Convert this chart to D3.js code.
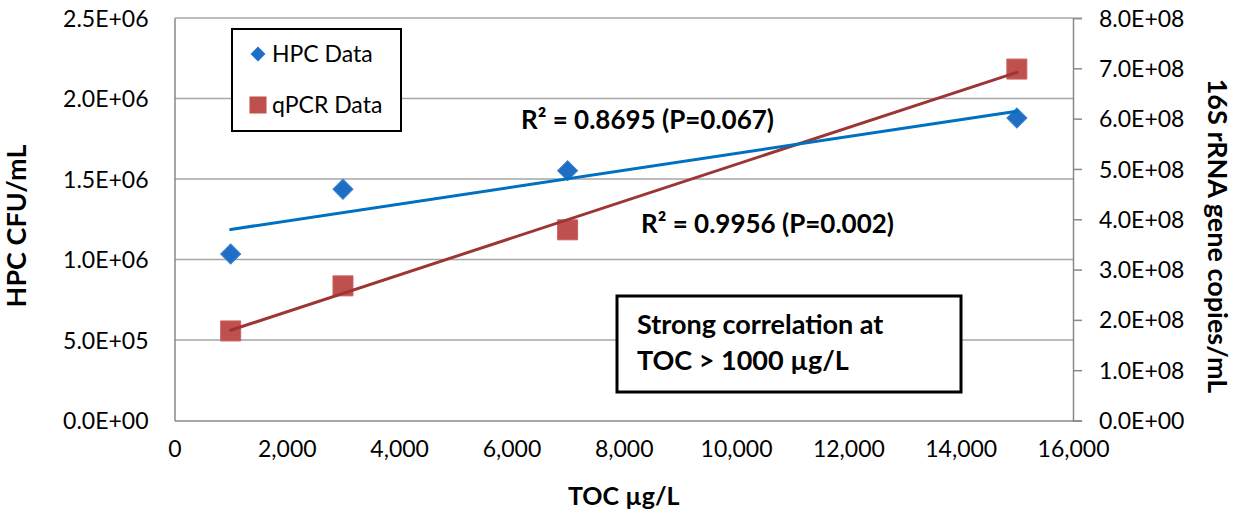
<!DOCTYPE html>
<html>
<head>
<meta charset="utf-8">
<script src="https://cdn.jsdelivr.net/npm/d3@7"></script>
<style>
  html, body { margin: 0; padding: 0; background: #fff; }
  svg { display: block; font-family: Lato, "Open Sans", sans-serif; }
</style>
</head>
<body>
<div id="chart"></div>
<script>
// data
const TOC = [1000, 3000, 7000, 15000];
const HPC = [1.034e6, 1.436e6, 1.552e6, 1.879e6];
const QPCR = [1.78e8, 2.676e8, 3.79e8, 6.985e8];

const X_TICKS = d3.range(0, 16001, 2000);
const YL_TICKS = d3.range(0, 2.5e6 + 1, 5e5);
const YR_TICKS = d3.range(0, 8e8 + 1, 1e8);

const HPC_LABEL = "HPC Data";
const QPCR_LABEL = "qPCR Data";
const R2_HPC = "R² = 0.8695 (P=0.067)";
const R2_QPCR = "R² = 0.9956 (P=0.002)";
const NOTE_LINES = ["Strong correlation at", "TOC > 1000 µg/L"];

const width = 1239, height = 516;
const plot = { left: 174.5, right: 1073, top: 18, bottom: 420.5 };

const BLUE = "#1F6EC5", BLUE_LINE = "#0070C0";
const RED = "#C0504D", RED_LINE = "#9C3634";
const GRID = "#A6A6A6", AXIS = "#898989";
const TICK_FONT = 23;

// ---------- helpers ----------
function sci(v) {
  if (v === 0) return "0.0E+00";
  const [m, e] = v.toExponential(1).split("e");
  const n = +e;
  return `${m}E${n < 0 ? "-" : "+"}${String(Math.abs(n)).padStart(2, "0")}`;
}

function fitLine(xs, ys) {
  const mx = d3.mean(xs), my = d3.mean(ys);
  const sxy = d3.sum(xs, (x, i) => (x - mx) * (ys[i] - my));
  const sxx = d3.sum(xs, x => (x - mx) ** 2);
  const slope = sxy / sxx;
  return x => my + slope * (x - mx);
}

function styleTicks(g) {
  g.selectAll("text")
    .attr("font-size", TICK_FONT)
    .attr("fill", "#000")
    .attr("font-family", "Lato")
    .attr("dy", "0.35em");
}

// ---------- main ----------
const svg = d3.select("#chart").append("svg")
  .attr("width", width)
  .attr("height", height);

const x = d3.scaleLinear().domain([0, 16000]).range([plot.left, plot.right]);
const yL = d3.scaleLinear().domain([0, 2.5e6]).range([plot.bottom, plot.top]);
const yR = d3.scaleLinear().domain([0, 8e8]).range([plot.bottom, plot.top]);

// gridlines
svg.append("g")
  .selectAll("line")
  .data(YL_TICKS.filter(v => v > 0))
  .join("line")
  .attr("x1", plot.left).attr("x2", plot.right)
  .attr("y1", d => yL(d)).attr("y2", d => yL(d))
  .attr("stroke", GRID).attr("stroke-width", 1.5);

// left axis
svg.append("g")
  .attr("transform", `translate(${plot.left},0)`)
  .call(d3.axisLeft(yL).tickValues(YL_TICKS).tickSize(0).tickPadding(26).tickFormat(sci))
  .call(g => g.select(".domain").attr("stroke", AXIS).attr("stroke-width", 1.5))
  .call(styleTicks);

// right axis
svg.append("g")
  .attr("transform", `translate(${plot.right},0)`)
  .call(d3.axisRight(yR).tickValues(YR_TICKS).tickSize(9).tickPadding(17).tickFormat(sci))
  .call(g => g.select(".domain").attr("stroke", AXIS).attr("stroke-width", 1.5))
  .call(g => g.selectAll(".tick line").attr("stroke", AXIS).attr("stroke-width", 1.5))
  .call(styleTicks);

// bottom axis
svg.append("g")
  .attr("transform", `translate(0,${plot.bottom})`)
  .call(d3.axisBottom(x).tickValues(X_TICKS).tickSize(0).tickPadding(28).tickFormat(d3.format(",")))
  .call(g => g.select(".domain").attr("stroke", AXIS).attr("stroke-width", 1.5))
  .call(styleTicks);

// axis titles
svg.append("text")
  .attr("transform", `translate(26,226) rotate(-90)`)
  .attr("text-anchor", "middle")
  .attr("font-size", 27).attr("font-weight", 700)
  .text("HPC CFU/mL");

svg.append("text")
  .attr("transform", `translate(1208,236) rotate(90)`)
  .attr("text-anchor", "middle")
  .attr("font-size", 27).attr("font-weight", 700)
  .text("16S rRNA gene copies/mL");

svg.append("text")
  .attr("x", (plot.left + plot.right) / 2)
  .attr("y", 505)
  .attr("text-anchor", "middle")
  .attr("font-size", 25).attr("font-weight", 700)
  .text("TOC µg/L");

// trendlines + markers
const hpcFit = fitLine(TOC, HPC);
const qpcrFit = fitLine(TOC, QPCR);
const xExt = d3.extent(TOC);

const diamond = d3.symbol().type(d3.symbolSquare);
const square = d3.symbol().type(d3.symbolSquare);

svg.append("g")
  .selectAll("path")
  .data(TOC.map((t, i) => [t, HPC[i]]))
  .join("path")
  .attr("d", diamond.size(200)())
  .attr("transform", d => `translate(${x(d[0])},${yL(d[1])}) rotate(45)`)
  .attr("fill", BLUE).attr("stroke", "#3A80CF").attr("stroke-width", 1);

svg.append("g")
  .selectAll("path")
  .data(TOC.map((t, i) => [t, QPCR[i]]))
  .join("path")
  .attr("d", square.size(400)())
  .attr("transform", d => `translate(${x(d[0])},${yR(d[1])})`)
  .attr("fill", RED).attr("stroke", "#C9605D").attr("stroke-width", 1);

svg.append("line")
  .attr("x1", x(xExt[0])).attr("y1", yR(qpcrFit(xExt[0])))
  .attr("x2", x(xExt[1])).attr("y2", yR(qpcrFit(xExt[1])))
  .attr("stroke", RED_LINE).attr("stroke-width", 3).attr("stroke-linecap", "round");

svg.append("line")
  .attr("x1", x(xExt[0])).attr("y1", yL(hpcFit(xExt[0])))
  .attr("x2", x(xExt[1])).attr("y2", yL(hpcFit(xExt[1])))
  .attr("stroke", BLUE_LINE).attr("stroke-width", 3).attr("stroke-linecap", "round");

// R² labels
svg.append("text")
  .attr("x", 521).attr("y", 129)
  .attr("font-size", 26).attr("font-weight", 700)
  .text(R2_HPC);

svg.append("text")
  .attr("x", 641).attr("y", 233)
  .attr("font-size", 26).attr("font-weight", 700)
  .text(R2_QPCR);

// legend
const legend = svg.append("g");
legend.append("rect")
  .attr("x", 232).attr("y", 29).attr("width", 169).attr("height", 102)
  .attr("fill", "#fff").attr("stroke", "#000").attr("stroke-width", 2);

legend.append("path")
  .attr("d", diamond.size(110)())
  .attr("transform", "translate(258,54) rotate(45)")
  .attr("fill", BLUE);
legend.append("text")
  .attr("x", 272).attr("y", 62)
  .attr("font-size", TICK_FONT)
  .text(HPC_LABEL);

legend.append("path")
  .attr("d", square.size(290)())
  .attr("transform", "translate(258,105)")
  .attr("fill", RED);
legend.append("text")
  .attr("x", 272).attr("y", 113)
  .attr("font-size", TICK_FONT)
  .text(QPCR_LABEL);

// note box
const note = svg.append("g");
note.append("rect")
  .attr("x", 617).attr("y", 296).attr("width", 344).attr("height", 96)
  .attr("fill", "#fff").attr("stroke", "#000").attr("stroke-width", 3);

note.selectAll("text")
  .data(NOTE_LINES)
  .join("text")
  .attr("x", 637)
  .attr("y", (d, i) => 334 + i * 36)
  .attr("font-size", 27).attr("font-weight", 700)
  .text(d => d);
</script>
</body>
</html>
